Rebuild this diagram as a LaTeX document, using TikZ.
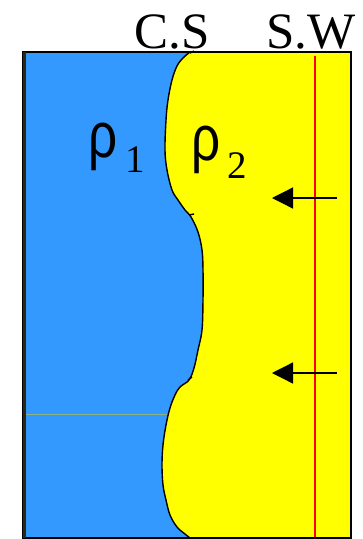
\documentclass[tikz,border=0pt]{standalone}
\usepackage{fontspec}
\setmainfont{Liberation Serif}
\newfontfamily\rhofont{Liberation Sans}
\usetikzlibrary{arrows.meta}
\definecolor{waterblue}{RGB}{51,153,255}
\definecolor{sandyellow}{RGB}{255,255,0}
\definecolor{faintline}{RGB}{140,180,130}
\definecolor{edgedark}{RGB}{40,40,20}
\tikzset{
  boundary/.style={line width=1.4pt, black, line join=round},
  frame/.style={line width=1.5pt, black},
  flowarrow/.style={line width=1.3pt, -{Triangle[length=21pt,width=21pt]}},
  swline/.style={line width=1.6pt, red},
  toplabel/.style={anchor=base, inner sep=0pt, font=\fontsize{51}{51}\selectfont},
  rholabel/.style={anchor=base, inner sep=0pt, font=\rhofont\fontsize{64}{64}\selectfont, xscale=0.8},
  sublabel/.style={anchor=base, inner sep=0pt, font=\fontsize{39}{39}\selectfont}
}
\begin{document}
\begin{tikzpicture}[x=1pt,y=-1pt]
\useasboundingbox (0,0) rectangle (363,539);
% blue background
\fill[waterblue] (23,52) rectangle (351,538);
% yellow region
\fill[sandyellow] plot[smooth, tension=0.6] coordinates {
 (190,52) (183,58) (177,66) (172,80) (168,100) (166,120) (165,150) (167,170)
 (172,190) (178,200) (185,210) (191,217) (198,232) (202,250) (203,270)
 (203,300) (202,330) (198,350) (194,368) (189,380) (180,387) (175,395)
 (170,408) (166,425) (163,445) (162,465) (163,485) (166,500) (170,515)
 (177,527) (185,534) (190,538)}
 -- (351,538) -- (351,52) -- cycle;
% faint horizontal line
\draw[faintline, line width=0.6pt] (25,414) -- (167,414);
% S.W red line
\coordinate (swtop) at (315,56);
\coordinate (swbot) at (315,538);
\draw[swline] (swtop) -- (swbot);
% boundary curve
\draw[boundary] plot[smooth, tension=0.6] coordinates {
 (190,52) (183,58) (177,66) (172,80) (168,100) (166,120) (165,150) (167,170)
 (172,190) (178,200) (185,210) (191,217) (198,232) (202,250) (203,270)
 (203,300) (202,330) (198,350) (194,368) (189,380) (180,387) (175,395)
 (170,408) (166,425) (163,445) (162,465) (163,485) (166,500) (170,515)
 (177,527) (185,534) (190,538)};
\draw[boundary] (190,53) -- (194,51);
\draw[boundary] (189,215) -- (194,214);
\draw[boundary] (188,380) -- (192,377);
% frame
\draw[frame] (23,52) rectangle (351,538);
\draw[edgedark, line width=3pt] (24.5,52) -- (24.5,538);
% arrows
\coordinate (a1s) at (337,198);
\coordinate (a1e) at (272,198);
\coordinate (a2s) at (337,373);
\coordinate (a2e) at (272,373);
\draw[flowarrow] (a1s) -- (a1e);
\draw[flowarrow] (a2s) -- (a2e);
% labels
\node[toplabel] (cs) at (172,48) {C.S};
\node[toplabel] (sw) at (311,48) {S.W};
\node[rholabel] (rho1) at (103.5,157) {ρ};
\node[sublabel] (sub1) at (135,172) {1};
\node[rholabel] (rho2) at (206.5,160) {ρ};
\node[sublabel] (sub2) at (237.5,178) {2};
\end{tikzpicture}
\end{document}
